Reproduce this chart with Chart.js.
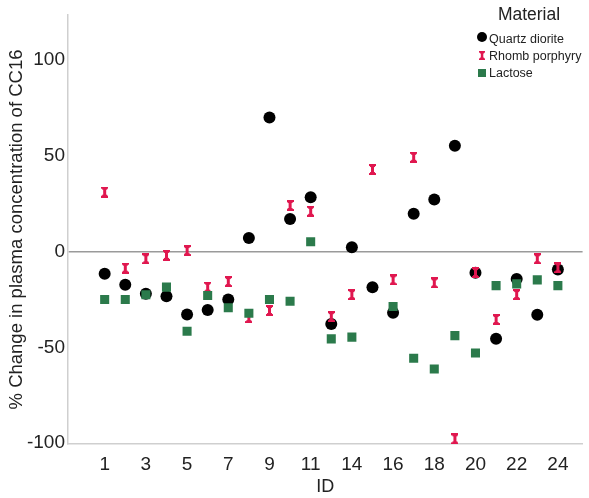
<!DOCTYPE html>
<html>
<head>
<meta charset="utf-8">
<script src="https://cdn.jsdelivr.net/npm/chart.js@4/dist/chart.umd.min.js"></script>
<style>
    html, body { margin: 0; padding: 0; background: #fff; }
    #wrap { width: 589px; height: 498px; }
</style>
</head>
<body>
<div id="wrap"><canvas id="cc16Chart" width="589" height="498"></canvas></div>
<script>
// Participant IDs along the x axis (one ID between 11 and 14 carries no label)
const ids = ['1', '2', '3', '4', '5', '6', '7', '8', '9', '10', '11', '13',
    '14', '15', '16', '17', '18', '19', '20', '21', '22', '23', '24'];

// % change in plasma CC16
const quartzDiorite = [-11.6, -17.4, -22, -23.3, -32.9, -30.5, -25, 7.1, 70, 17, 28.4, -37.8,
    2.2, -18.6, -32, 19.7, 27.2, 55.2, -11.1, -45.6, -14.3, -33, -9.4];
const rhombPorphyry = [31, -8.7, -3.8, -2, 0.5, -18.6, -15.7, -34.5, -30.8, 24, 21, -34,
    -22.5, 42.8, -14.8, 49.2, -16.4, -97.8, -11, -35.5, -22.5, -3.8, -8.5];
const lactose = [-25, -25, -22.6, -18.6, -41.6, -23, -29.4, -32.2, -25, -26, 5.1, -45.6,
    -44.7, null, -28.7, -55.7, -61.3, -43.9, -53, -17.8, -16.9, -14.8, -17.8];

const yTicks = [100, 50, 0, -50, -100];
const xTickIdx = [0, 2, 4, 6, 8, 10, 12, 14, 16, 18, 20, 22];

const BLACK = '#000000';
const RED = '#e0174f';
const GREEN = '#2b7a4b';
const FONT = "'Liberation Sans', Arial, sans-serif";

/* Builds the little I-beam used for the rhomb porphyry points
*/
const makeIBeam = () => {
    const c = document.createElement('canvas');
    c.width = 7;
    c.height = 11;
    const g = c.getContext('2d');
    g.fillStyle = RED;
    g.fillRect(0, 0, 7, 2);
    g.fillRect(0, 9, 7, 2);
    g.fillRect(2, 2, 3, 7);
    g.fillRect(1, 2, 5, 1);
    g.fillRect(1, 8, 5, 1);
    return c;
};

const toPoints = (values) => values.map((v, i) => ({ x: i, y: v })).filter(p => p.y !== null);

/* Draws the "Material" legend in the top right corner
*/
const legendPlugin = {
    id: 'materialLegend',
    afterDraw(chart, args, opts) {
        const ctx = chart.ctx;
        ctx.save();
        ctx.fillStyle = '#222';
        ctx.textBaseline = 'middle';
        ctx.font = '17.5px ' + FONT;
        ctx.textAlign = 'center';
        ctx.fillText('Material', 529, 15);

        ctx.font = '12.5px ' + FONT;
        ctx.textAlign = 'left';

        // Quartz diorite
        ctx.fillStyle = BLACK;
        ctx.beginPath();
        ctx.arc(482, 37, 5, 0, Math.PI * 2);
        ctx.fill();
        ctx.fillStyle = '#222';
        ctx.fillText('Quartz diorite', 489, 40);

        // Rhomb porphyry
        ctx.drawImage(opts.beam, 479, 51, 6, 9);
        ctx.fillStyle = '#222';
        ctx.fillText('Rhomb porphyry', 489, 57);

        // Lactose
        ctx.fillStyle = GREEN;
        ctx.fillRect(478, 69, 8, 8);
        ctx.fillStyle = '#222';
        ctx.fillText('Lactose', 489, 74);
        ctx.restore();
    }
};

const buildChart = () => {
    const beam = makeIBeam();

    const data = {
        datasets: [{
            label: 'Quartz diorite',
            data: toPoints(quartzDiorite),
            pointStyle: 'circle',
            pointRadius: 6,
            backgroundColor: BLACK,
            borderColor: BLACK,
            borderWidth: 0,
            order: 2
        }, {
            label: 'Rhomb porphyry',
            data: toPoints(rhombPorphyry),
            pointStyle: beam,
            backgroundColor: RED,
            borderColor: RED,
            order: 1
        }, {
            label: 'Lactose',
            data: toPoints(lactose),
            pointStyle: 'rect',
            pointRadius: 6.4,
            backgroundColor: GREEN,
            borderColor: GREEN,
            borderWidth: 0,
            order: 0
        }]
    };

    const config = {
        type: 'scatter',
        data: data,
        options: {
            responsive: false,
            animation: false,
            layout: { padding: { top: 15, right: 2, left: 0, bottom: 0 } },
            plugins: {
                legend: { display: false },
                tooltip: { enabled: false },
                materialLegend: { beam: beam }
            },
            scales: {
                x: {
                    type: 'linear',
                    min: -1.78,
                    max: 23.2,
                    afterBuildTicks: axis => { axis.ticks = xTickIdx.map(v => ({ value: v })); },
                    afterFit: axis => { axis.height = 54; },
                    grid: { display: false, drawTicks: false },
                    border: { display: true, color: '#cfcfcf', width: 1.5 },
                    ticks: {
                        padding: 9,
                        color: '#222',
                        font: { family: FONT, size: 19 },
                        callback: v => ids[v]
                    },
                    title: {
                        display: true,
                        text: 'ID',
                        color: '#222',
                        font: { family: FONT, size: 18 },
                        padding: { top: 2, bottom: 0 }
                    }
                },
                y: {
                    min: -100.5,
                    max: 123.5,
                    afterBuildTicks: axis => { axis.ticks = yTicks.map(v => ({ value: v })); },
                    afterFit: axis => { axis.width = 68; },
                    grid: {
                        drawTicks: false,
                        color: c => c.tick && c.tick.value === 0 ? '#9a9a9a' : 'rgba(0,0,0,0)',
                        lineWidth: 1.5
                    },
                    border: { display: true, color: '#cfcfcf', width: 1.5 },
                    ticks: {
                        padding: 3,
                        color: '#222',
                        font: { family: FONT, size: 19 }
                    },
                    title: {
                        display: true,
                        text: '% Change in plasma concentration of CC16',
                        color: '#222',
                        font: { family: FONT, size: 18.5 },
                        padding: { top: 6, bottom: 0 }
                    }
                }
            }
        },
        plugins: [legendPlugin]
    };

    const ctx = document.getElementById('cc16Chart').getContext('2d');
    const cc16Chart = new Chart(ctx, config);
};

document.addEventListener('DOMContentLoaded', () => {
    buildChart();
});
</script>
</body>
</html>
